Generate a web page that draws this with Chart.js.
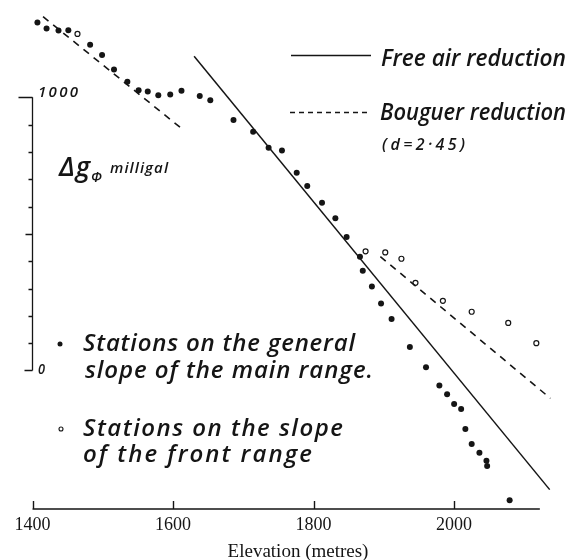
<!DOCTYPE html>
<html lang="en">
<head>
    <meta charset="UTF-8">
    <title>Gravity anomaly vs elevation</title>
    <script src="https://cdn.jsdelivr.net/npm/chart.js@4.4.1/dist/chart.umd.min.js"></script>
    <style>
        body { margin: 0; background: #ffffff; }
        #chart { display: block; }
    </style>
</head>
<body>
    <canvas id="chart" width="571" height="560"></canvas>
    <script>
        // stations on the general slope of the main range (elevation m, anomaly mgal)
        const mainElev = [1407, 1420, 1437, 1451, 1482, 1499, 1516, 1535, 1551, 1564, 1579, 1596, 1612, 1638,
            1653, 1686, 1714, 1736, 1755, 1776, 1791, 1812, 1831, 1847, 1866, 1870, 1883, 1896, 1911, 1937,
            1960, 1979, 1990, 2000, 2010, 2016, 2025, 2036, 2046, 2047, 2079];
        const mainAnom = [1274, 1252, 1244, 1245, 1192, 1155, 1102, 1057, 1026, 1021, 1007, 1010, 1024, 1005,
            989, 917, 874, 815, 805, 724, 675, 614, 557, 489, 416, 365, 307, 245, 188, 86,
            12, -55, -87, -123, -141, -214, -269, -301, -330, -350, -475];

        // stations on the slope of the front range
        const frontElev = [1464, 1874, 1902, 1925, 1945, 1984, 2025, 2077, 2117];
        const frontAnom = [1232, 436, 432, 409, 321, 255, 215, 174, 100];

        // reduction lines
        const freeAirElev = [1630, 2136];
        const freeAirAnom = [1150, -436];
        const bouguerUpperElev = [1415, 1610];
        const bouguerUpperAnom = [1295, 890];
        const bouguerLowerElev = [1895, 2137];
        const bouguerLowerAnom = [417, -102];

        // axes
        const xTicks = [1400, 1600, 1800, 2000];
        const xAxisEnd = 2122;
        const yBarTicks = [0, 100, 200, 300, 400, 500, 600, 700, 800, 900, 1000];

        const pts = (xs, ys) => xs.map((x, i) => ({ x: x, y: ys[i] }));

        const hand = '"Open Sans", "DejaVu Sans", sans-serif';
        const serif = '"Liberation Serif", "Times New Roman", serif';
        const ink = '#151515';

        // italic "hand lettering" stretched to the width seen in the figure
        function letter(ctx, text, x, y, size, width, weight) {
            ctx.save();
            ctx.font = 'italic ' + (weight || 600) + ' ' + size + 'px ' + hand;
            ctx.letterSpacing = '0px';
            const w = ctx.measureText(text).width;
            let ls = (width - w) / Math.max(1, text.length - 1);
            if (ls >= 0) {
                ctx.letterSpacing = ls + 'px';
                ctx.fillText(text, x, y);
            } else {
                ctx.translate(x, y);
                ctx.scale(width / w, 1);
                ctx.fillText(text, 0, 0);
            }
            ctx.restore();
        }

        const decor = {
            id: 'decor',
            afterDraw(chart) {
                const ctx = chart.ctx;
                const xs = chart.scales.x;
                const ys = chart.scales.y;
                const left = chart.chartArea.left;
                const bottom = chart.chartArea.bottom;
                ctx.save();
                ctx.strokeStyle = ink;
                ctx.fillStyle = ink;
                ctx.textBaseline = 'alphabetic';

                // x axis line with upward ticks
                ctx.lineWidth = 1.4;
                ctx.beginPath();
                ctx.moveTo(left, bottom);
                ctx.lineTo(xs.getPixelForValue(xAxisEnd), bottom);
                xTicks.forEach(v => {
                    const px = Math.round(xs.getPixelForValue(v)) + 0.5;
                    ctx.moveTo(px, bottom);
                    ctx.lineTo(px, bottom - 8);
                });
                ctx.stroke();

                ctx.font = '18px ' + serif;
                ctx.textAlign = 'center';
                xTicks.forEach(v => ctx.fillText(String(v), xs.getPixelForValue(v), 530));
                ctx.font = '19px ' + serif;
                ctx.fillText('Elevation (metres)', 298, 557);

                // milligal scale bar
                ctx.lineWidth = 1.3;
                ctx.beginPath();
                ctx.moveTo(left, ys.getPixelForValue(0));
                ctx.lineTo(left, ys.getPixelForValue(1000));
                yBarTicks.forEach(v => {
                    const py = Math.round(ys.getPixelForValue(v)) + 0.5;
                    let len = 4;
                    if (v === 500) len = 7;
                    if (v === 0) len = 8;
                    if (v === 1000) len = 14;
                    ctx.moveTo(left, py);
                    ctx.lineTo(left - len, py);
                });
                ctx.stroke();
                ctx.textAlign = 'left';
                letter(ctx, '1000', 38, ys.getPixelForValue(1000), 15, 40);
                letter(ctx, '0', 38, ys.getPixelForValue(0) + 4, 14, 7);

                letter(ctx, '\u0394g', 59, 176, 27, 31);
                letter(ctx, '\u03a6', 91, 182, 14, 13);
                letter(ctx, 'milligal', 110, 173, 15, 58);

                // legend for the lines
                ctx.lineWidth = 1.5;
                ctx.beginPath();
                ctx.moveTo(291, 55.5);
                ctx.lineTo(371, 55.5);
                ctx.stroke();
                ctx.setLineDash([5, 4]);
                ctx.beginPath();
                ctx.moveTo(290, 112.5);
                ctx.lineTo(371, 112.5);
                ctx.stroke();
                ctx.setLineDash([]);
                letter(ctx, 'Free air reduction', 381, 66, 24, 185);
                letter(ctx, 'Bouguer reduction', 380, 120, 24, 186);
                letter(ctx, '(d=2\u00b745)', 382, 150, 16, 83);

                // legend for the stations
                ctx.beginPath();
                ctx.arc(60, 344, 2.5, 0, Math.PI * 2);
                ctx.fill();
                ctx.lineWidth = 1.1;
                ctx.beginPath();
                ctx.arc(61, 429, 2, 0, Math.PI * 2);
                ctx.stroke();
                letter(ctx, 'Stations on the general', 83, 351, 24, 272);
                letter(ctx, 'slope of the main range.', 85, 378, 24, 288);
                letter(ctx, 'Stations on the slope', 83, 436, 24, 260);
                letter(ctx, 'of the front range', 83, 462, 24, 229);
                ctx.restore();
            }
        };

        const ctx = document.getElementById('chart').getContext('2d');
        const chart = new Chart(ctx, {
            type: 'scatter',
            data: {
                datasets: [
                    {
                        label: 'Free air reduction',
                        data: pts(freeAirElev, freeAirAnom),
                        showLine: true,
                        borderColor: ink,
                        borderWidth: 1.5,
                        pointRadius: 0
                    },
                    {
                        label: 'Bouguer reduction',
                        data: pts(bouguerUpperElev, bouguerUpperAnom),
                        showLine: true,
                        borderColor: ink,
                        borderWidth: 1.6,
                        borderDash: [7, 6],
                        pointRadius: 0
                    },
                    {
                        label: 'Bouguer reduction (front)',
                        data: pts(bouguerLowerElev, bouguerLowerAnom),
                        showLine: true,
                        borderColor: ink,
                        borderWidth: 1.6,
                        borderDash: [7, 6],
                        pointRadius: 0
                    },
                    {
                        label: 'Stations on the general slope of the main range',
                        data: pts(mainElev, mainAnom),
                        pointRadius: 3,
                        pointBackgroundColor: ink,
                        pointBorderWidth: 0
                    },
                    {
                        label: 'Stations on the slope of the front range',
                        data: pts(frontElev, frontAnom),
                        pointRadius: 2.5,
                        pointBackgroundColor: '#ffffff',
                        pointBorderColor: ink,
                        pointBorderWidth: 1.2
                    }
                ]
            },
            options: {
                responsive: false,
                animation: false,
                devicePixelRatio: 1,
                layout: { padding: { left: 32.5, right: 18.5, top: 0, bottom: 51 } },
                scales: {
                    x: { type: 'linear', display: false, min: 1400, max: 2140 },
                    y: { type: 'linear', display: false, min: -507, max: 1337 }
                },
                plugins: {
                    legend: { display: false },
                    tooltip: { enabled: false }
                }
            },
            plugins: [decor]
        });
    </script>
</body>
</html>
